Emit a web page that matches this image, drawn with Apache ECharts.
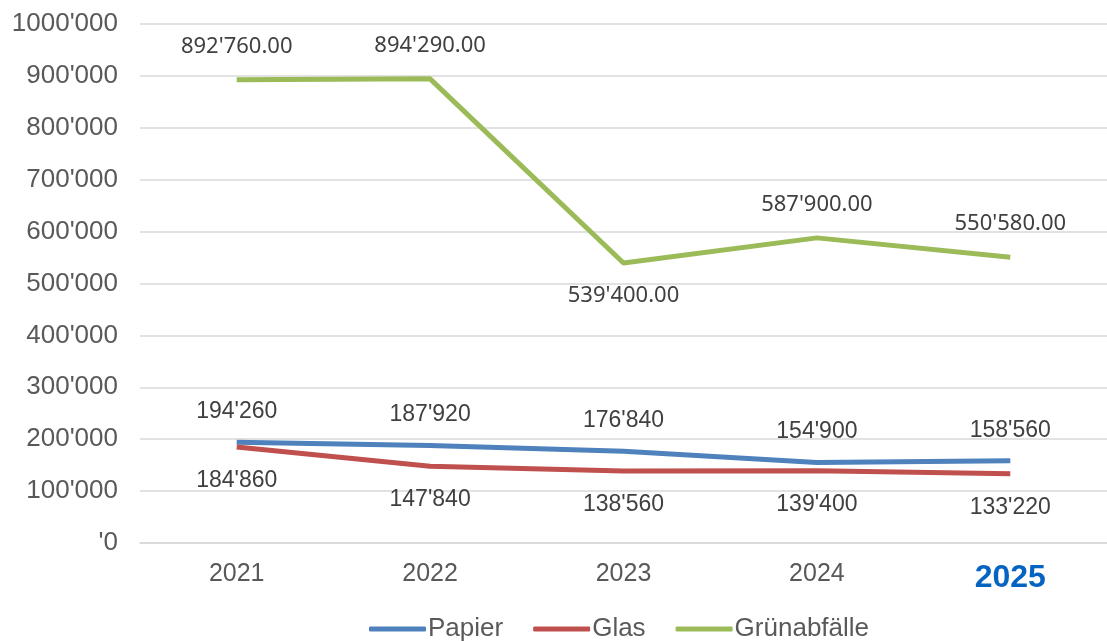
<!DOCTYPE html>
<html><head><meta charset="utf-8">
<script src="https://cdn.jsdelivr.net/npm/echarts@6/dist/echarts.min.js"></script>
<style>html,body{margin:0;padding:0;background:#fff}#c{width:1107px;height:641px}</style>
</head><body><div id="c"></div>
<script>
const years = ['2021','2022','2023','2024','2025'];
const papier = [194260, 187920, 176840, 154900, 158560];
const glas = [184860, 147840, 138560, 139400, 133220];
const gruen = [892760, 894290, 539400, 587900, 550580];
const yTicks = ["'0","100'000","200'000","300'000","400'000","500'000","600'000","700'000","800'000","900'000","1000'000"];
const gruenPos = ['top','top','bottom','top','top'];

function fmt(v, dec) {
  const s = Math.round(v).toString();
  const head = s.slice(0, s.length - 3), tail = s.slice(-3);
  return (head ? head + "'" : "'") + tail + (dec ? '.00' : '');
}

const chart = echarts.init(document.getElementById('c'));
chart.setOption({
  animation: false,
  grid: {left: 140, top: 24, width: 975, height: 519},
  legend: {
    bottom: -6, left: 364, itemWidth: 57, itemHeight: 5, itemGap: 30,
    icon: 'roundRect',
    textStyle: {fontFamily: 'Liberation Sans', fontSize: 26, color: '#595959', padding: [0,0,0,-3]},
    data: ['Papier','Glas','Grünabfälle']
  },
  xAxis: {
    type: 'category', data: years,
    axisLine: {show: true, lineStyle: {color: '#d9d9d9', width: 1.5}},
    axisTick: {show: false},
    axisLabel: {
      margin: 19, fontFamily: 'Liberation Sans', fontSize: 25, color: '#595959',
      formatter: v => v === '2025' ? '{b|' + v + '}' : v,
      rich: {b: {fontFamily: 'Liberation Sans', fontSize: 32, fontWeight: 'bold', color: '#0563C1', padding: [0,0,5,0]}}
    }
  },
  yAxis: {
    type: 'value', min: 0, max: 1000000, interval: 100000,
    axisLine: {show: false}, axisTick: {show: false},
    splitLine: {lineStyle: {color: '#d9d9d9', width: 1.5}},
    axisLabel: {
      margin: 22, fontFamily: 'Liberation Sans', fontSize: 26, color: '#595959',
      formatter: v => yTicks[Math.round(v / 100000)]
    }
  },
  series: [
    {
      name: 'Papier', type: 'line', data: papier, symbol: 'circle', symbolSize: 0.1, showSymbol: true,
      lineStyle: {color: '#4F81BD', width: 5}, itemStyle: {color: '#4F81BD'},
      label: {show: true, position: 'top', distance: 19, fontFamily: 'Liberation Sans', fontSize: 23, color: '#404040',
        formatter: p => fmt(p.value, false)}
    },
    {
      name: 'Glas', type: 'line', data: glas, symbol: 'circle', symbolSize: 0.1, showSymbol: true,
      lineStyle: {color: '#C0504D', width: 5}, itemStyle: {color: '#C0504D'},
      label: {show: true, position: 'bottom', distance: 22, fontFamily: 'Liberation Sans', fontSize: 23, color: '#404040',
        formatter: p => fmt(p.value, false)}
    },
    {
      name: 'Grünabfälle', type: 'line', symbol: 'circle', symbolSize: 0.1, showSymbol: true,
      data: gruen.map((v, i) => ({value: v, label: {position: gruenPos[i]}})),
      lineStyle: {color: '#9BBB59', width: 5}, itemStyle: {color: '#9BBB59'},
      label: {show: true, distance: 22, fontFamily: 'Noto Sans', fontSize: 22, color: '#404040',
        formatter: p => fmt(p.value, true)}
    }
  ]
});
</script></body></html>
